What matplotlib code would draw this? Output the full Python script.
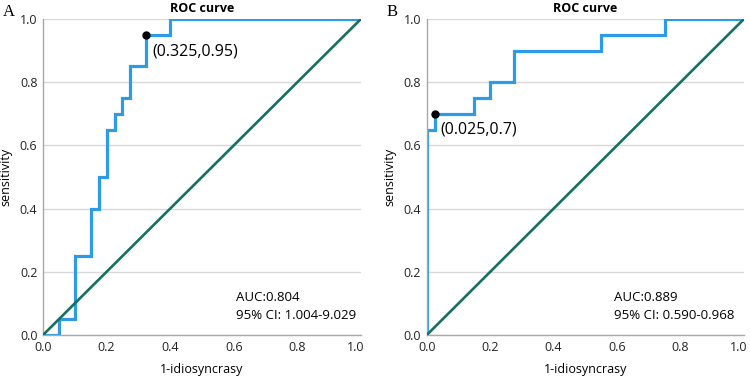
import matplotlib.pyplot as plt
import matplotlib.transforms as mtransforms

plt.rcParams['font.family'] = ['Open Sans', 'DejaVu Sans']

# panel A
fpr_a = [0.0, 0.05, 0.05, 0.10, 0.10, 0.15, 0.15, 0.175, 0.175, 0.20, 0.20, 0.225, 0.225,
         0.25, 0.25, 0.275, 0.275, 0.325, 0.325, 0.40, 0.40, 1.0]
tpr_a = [0.0, 0.0, 0.05, 0.05, 0.25, 0.25, 0.40, 0.40, 0.50, 0.50, 0.65, 0.65, 0.70,
         0.70, 0.75, 0.75, 0.85, 0.85, 0.95, 0.95, 1.0, 1.0]
cut_a = (0.325, 0.95)
auc_a = ['AUC:0.804', '95% CI: 1.004-9.029']

# panel B
fpr_b = [0.0, 0.0, 0.025, 0.025, 0.15, 0.15, 0.20, 0.20, 0.275, 0.275, 0.55, 0.55, 0.75, 0.75, 1.0]
tpr_b = [0.0, 0.65, 0.65, 0.70, 0.70, 0.75, 0.75, 0.80, 0.80, 0.90, 0.90, 0.95, 0.95, 1.0, 1.0]
cut_b = (0.025, 0.70)
auc_b = ['AUC:0.889', '95% CI: 0.590-0.968']

blue = '#2f9be6'
green = '#15705f'

fig = plt.figure(figsize=(7.5, 3.79), dpi=100)
ax_a = fig.add_axes([0.0573, 0.116, 0.424, 0.834])
ax_b = fig.add_axes([0.569, 0.116, 0.423, 0.834])


def draw(ax, fpr, tpr, cut, auc, auc_x, letter, lx, dy):
    ax.plot([0, 1], [0, 1], color=green, lw=1.9, zorder=3)
    ax.plot(fpr, tpr, color=blue, lw=2.3, zorder=2, solid_joinstyle='miter')
    ax.plot(*cut, 'o', color='black', ms=5, zorder=4)
    ax.annotate('(%g,%g)' % cut, cut, xytext=(4, dy), textcoords='offset points',
                fontsize=11.5, va='center')
    ax.text(auc_x, 0.12, auc[0], fontsize=9.5, va='center')
    ax.text(auc_x, 0.063, auc[1], fontsize=9.5, va='center')
    ax.set_xlim(0, 1)
    ax.set_ylim(0, 1)
    ax.set_xticks([0, 0.2, 0.4, 0.6, 0.8, 1.0])
    ax.set_yticks([0, 0.2, 0.4, 0.6, 0.8, 1.0])
    ax.xaxis.set_major_formatter(plt.FormatStrFormatter('%.1f'))
    ax.yaxis.set_major_formatter(plt.FormatStrFormatter('%.1f'))
    ax.tick_params(length=0, labelsize=9, pad=4, colors='#222222')
    # last x label sits a little left of its tick, as in the original
    last = ax.get_xticklabels()[-1]
    last.set_transform(last.get_transform() +
                       mtransforms.ScaledTranslation(-5 / 100, 0, fig.dpi_scale_trans))
    ax.grid(axis='y', color='#d9d9d9', lw=1)
    ax.set_axisbelow(True)
    for s in ['top', 'right']:
        ax.spines[s].set_visible(False)
    for s in ['left', 'bottom']:
        ax.spines[s].set_color('#a8a8a8')
        ax.spines[s].set_linewidth(1)
    ax.set_title('ROC curve', fontsize=9, fontweight='bold', pad=5)
    ax.set_xlabel('1-idiosyncrasy', fontsize=9, labelpad=7)
    ax.set_ylabel('sensitivity', fontsize=9, labelpad=5)
    fig.text(lx, 0.99, letter, fontsize=12, family='Liberation Serif', va='top')


draw(ax_a, fpr_a, tpr_a, cut_a, auc_a, 0.607, 'A', 0.004, -12)
draw(ax_b, fpr_b, tpr_b, cut_b, auc_b, 0.59, 'B', 0.515, -11)

fig.savefig('out.png', dpi=100)
